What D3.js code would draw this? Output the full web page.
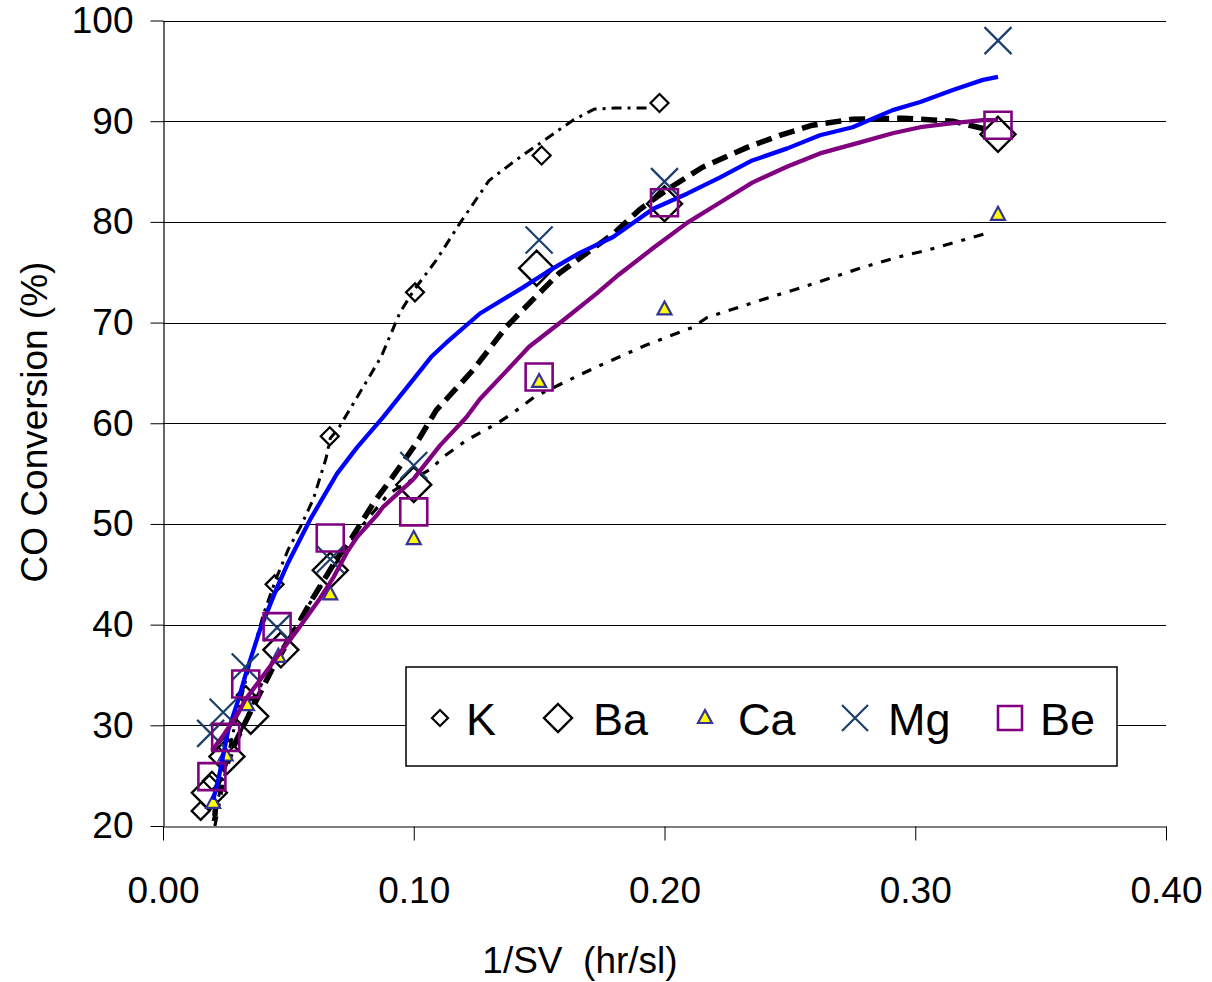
<!DOCTYPE html>
<html>
<head>
<meta charset="utf-8">
<script src="https://cdn.jsdelivr.net/npm/d3@7"></script>
<style>
  html, body { margin: 0; padding: 0; background: #fff; }
  svg text { font-family: "Liberation Sans", Arial, sans-serif; fill: #000; }
</style>
</head>
<body>
<svg id="chart" width="1212" height="982"></svg>
<script>
// ---------------- DATA ----------------
const seriesNames = ["K", "Ba", "Ca", "Mg", "Be"];
const xTicks = [0.00, 0.10, 0.20, 0.30, 0.40];
const yTicks = [20, 30, 40, 50, 60, 70, 80, 90, 100];

// measured points (markers)
const kX  = [0.015, 0.0195, 0.025, 0.033, 0.0445, 0.0665, 0.1005, 0.151, 0.198];
const kY  = [21.5, 24.5, 28.0, 33.0, 44.0, 58.7, 73.0, 86.6, 91.8];
const baX = [0.0185, 0.0255, 0.035, 0.047, 0.0667, 0.100, 0.149, 0.200, 0.333];
const baY = [23.3, 26.9, 30.9, 37.5, 45.4, 53.9, 75.4, 81.8, 88.7];
const caX = [0.020, 0.025, 0.0335, 0.046, 0.0667, 0.100, 0.150, 0.200, 0.333];
const caY = [22.3, 27.0, 32.0, 36.8, 43.0, 48.5, 64.1, 71.3, 80.7];
const mgX = [0.019, 0.024, 0.0328, 0.0455, 0.0667, 0.100, 0.150, 0.200, 0.333];
const mgY = [29.2, 31.3, 35.8, 39.7, 46.5, 55.8, 78.2, 84.0, 98.0];
const beX = [0.0195, 0.025, 0.033, 0.0455, 0.0667, 0.100, 0.150, 0.200, 0.333];
const beY = [24.9, 28.8, 34.1, 39.8, 48.6, 51.2, 64.6, 81.9, 89.6];

// model curves
const kLineX  = [0.020, 0.025, 0.030, 0.035, 0.040, 0.045, 0.050, 0.055, 0.060, 0.065, 0.0667, 0.070, 0.076, 0.082, 0.087, 0.0945, 0.100, 0.109, 0.1185, 0.130, 0.140, 0.148, 0.1635, 0.172, 0.180, 0.195];
const kLineY  = [20.5, 26.0, 31.5, 36.5, 41.0, 44.5, 47.5, 49.8, 52.5, 56.5, 58.5, 59.5, 62.0, 64.5, 66.6, 71.0, 73.2, 76.2, 79.9, 84.1, 86.0, 87.4, 90.1, 91.2, 91.3, 91.3];
const baLineX = [0.0207, 0.0215, 0.0255, 0.032, 0.0387, 0.044, 0.052, 0.0587, 0.069, 0.0755, 0.084, 0.0905, 0.101, 0.109, 0.1237, 0.137, 0.1476, 0.158, 0.169, 0.180, 0.190, 0.201, 0.215, 0.233, 0.246, 0.259, 0.275, 0.295, 0.315, 0.330];
const baLineY = [21.0, 23.9, 26.6, 29.9, 33.2, 35.8, 39.2, 42.2, 46.4, 48.7, 52.1, 54.3, 58.0, 61.3, 65.3, 69.6, 72.3, 74.9, 76.9, 78.9, 81.2, 83.2, 85.4, 87.4, 88.6, 89.6, 90.2, 90.3, 90.0, 89.1];
const caLineX = [0.0207, 0.025, 0.032, 0.040, 0.050, 0.060, 0.070, 0.080, 0.090, 0.100, 0.1065, 0.112, 0.121, 0.134, 0.140, 0.148, 0.162, 0.173, 0.193, 0.211, 0.217, 0.238, 0.255, 0.278, 0.293, 0.305, 0.329];
const caLineY = [20.0, 25.5, 30.0, 34.5, 38.7, 42.7, 46.5, 50.0, 53.0, 54.5, 55.4, 56.7, 58.3, 60.1, 61.1, 62.6, 64.3, 65.6, 67.8, 69.5, 70.5, 72.2, 73.5, 75.4, 76.5, 77.2, 78.9];
const mgLineX = [0.020, 0.022, 0.026, 0.030, 0.0335, 0.0387, 0.0455, 0.050, 0.0586, 0.0694, 0.0774, 0.0878, 0.100, 0.107, 0.113, 0.1264, 0.1436, 0.153, 0.166, 0.1795, 0.1955, 0.209, 0.222, 0.235, 0.249, 0.262, 0.275, 0.291, 0.302, 0.315, 0.327, 0.333];
const mgLineY = [22.6, 24.5, 29.5, 32.5, 35.5, 39.5, 43.7, 46.2, 50.4, 55.0, 57.6, 60.6, 64.4, 66.6, 68.0, 70.9, 73.5, 75.0, 76.9, 78.5, 81.3, 82.8, 84.4, 86.1, 87.3, 88.6, 89.4, 91.1, 91.9, 93.1, 94.1, 94.4];
const beLineX = [0.0195, 0.0235, 0.030, 0.0327, 0.0387, 0.0455, 0.0534, 0.0626, 0.068, 0.0734, 0.0774, 0.0854, 0.0878, 0.0997, 0.1105, 0.121, 0.1264, 0.137, 0.146, 0.160, 0.173, 0.182, 0.1955, 0.209, 0.222, 0.235, 0.249, 0.262, 0.278, 0.291, 0.302, 0.315, 0.327, 0.333];
const beLineY = [27.5, 28.8, 31.2, 32.5, 34.5, 36.8, 39.4, 42.6, 44.7, 47.2, 48.7, 50.9, 51.7, 54.4, 57.8, 60.6, 62.4, 65.2, 67.6, 70.3, 72.9, 74.8, 77.4, 79.9, 81.9, 83.9, 85.5, 86.8, 87.9, 88.8, 89.4, 89.8, 90.1, 90.1];

// ---------------- CHART ----------------
const svg = d3.select("#chart");
const L = 163, R = 1166, T = 20.5, B = 826;
const x = d3.scaleLinear().domain([0, 0.4]).range([L, R]);
const y = d3.scaleLinear().domain([20, 100]).range([B, T]);

// gridlines
svg.append("g").selectAll("line").data(yTicks.filter(v => v > 20)).join("line")
  .attr("x1", L).attr("x2", R)
  .attr("y1", d => Math.round(y(d)) + 0.5).attr("y2", d => Math.round(y(d)) + 0.5)
  .attr("stroke", "#000").attr("stroke-width", 1);

// axes
const yAxis = d3.axisLeft(y).tickValues(yTicks).tickFormat(d3.format("d"))
  .tickSize(13).tickSizeOuter(0).tickPadding(17);
const gy = svg.append("g").attr("transform", `translate(${L + 0.5},0)`).call(yAxis);
const xAxis = d3.axisBottom(x).tickValues(xTicks).tickFormat(d3.format(".2f"))
  .tickSize(14).tickSizeOuter(0).tickPadding(36);
const gx = svg.append("g").attr("transform", `translate(0,${B + 0.5})`).call(xAxis);
[gx, gy].forEach(g => {
  g.select(".domain").attr("stroke", "#000").attr("stroke-width", 1.2);
  g.selectAll(".tick line").attr("stroke", "#000").attr("stroke-width", 1);
  g.selectAll(".tick text").attr("font-size", 37).attr("fill", "#000")
    .style("font-family", "'Liberation Sans', Arial, sans-serif");
});

// axis titles
svg.append("text").attr("x", 580).attr("y", 973).attr("text-anchor", "middle")
  .attr("font-size", 37).style("white-space", "pre").text("1/SV \u00a0(hr/sl)");
svg.append("text").attr("transform", "translate(47,422) rotate(-90)")
  .attr("text-anchor", "middle").attr("font-size", 37).text("CO Conversion (%)");

// helpers
const zip = (xs, ys) => xs.map((v, i) => [v, ys[i]]);
const line = d3.line().x(d => x(d[0])).y(d => y(d[1]));
const plot = svg.append("g");

const diamond = (cx, cy, r) => `M${cx},${cy - r}L${cx + r},${cy}L${cx},${cy + r}L${cx - r},${cy}Z`;
const tri = (cx, cy) => `M${cx},${cy - 8}L${cx + 7},${cy + 5}L${cx - 7},${cy + 5}Z`;
const cross = (cx, cy, r) => `M${cx - r},${cy - r}L${cx + r},${cy + r}M${cx + r},${cy - r}L${cx - r},${cy + r}`;
const square = (cx, cy, r) => `M${cx - r},${cy - r}H${cx + r}V${cy + r}H${cx - r}Z`;

const styles = {
  K:  { line: { stroke: "#000", w: 3, dash: "10,6,3,6" },
        mark: (cx, cy) => diamond(cx, cy, 9), mstroke: "#000", mfill: "none", mw: 2.2 },
  Ba: { line: { stroke: "#000", w: 5.5, dash: "16,8" },
        mark: (cx, cy) => diamond(cx, cy, 17.5), mstroke: "#000", mfill: "none", mw: 2.4 },
  Ca: { line: { stroke: "#000", w: 3.2, dash: "10,9,4,9" },
        mark: (cx, cy) => tri(cx, cy), mstroke: "#333399", mfill: "#ffff00", mw: 2.2 },
  Mg: { line: { stroke: "#0000ff", w: 4.3, dash: null },
        mark: (cx, cy) => cross(cx, cy, 13.5), mstroke: "#1b3f6b", mfill: "none", mw: 2.2 },
  Be: { line: { stroke: "#800080", w: 4.3, dash: null },
        mark: (cx, cy) => square(cx, cy, 13.5), mstroke: "#800080", mfill: "none", mw: 2.6 }
};

const seriesData = {
  K:  { pts: zip(kX, kY),   curve: zip(kLineX, kLineY) },
  Ba: { pts: zip(baX, baY), curve: zip(baLineX, baLineY) },
  Ca: { pts: zip(caX, caY), curve: zip(caLineX, caLineY) },
  Mg: { pts: zip(mgX, mgY), curve: zip(mgLineX, mgLineY) },
  Be: { pts: zip(beX, beY), curve: zip(beLineX, beLineY) }
};

seriesNames.forEach(name => {
  const s = styles[name], d = seriesData[name];
  plot.append("path").datum(d.curve).attr("d", line)
    .attr("fill", "none").attr("stroke", s.line.stroke).attr("stroke-width", s.line.w)
    .attr("stroke-dasharray", s.line.dash).attr("stroke-linejoin", "round");
  plot.append("g").selectAll("path").data(d.pts).join("path")
    .attr("d", p => s.mark(x(p[0]), y(p[1])))
    .attr("fill", s.mfill).attr("stroke", s.mstroke).attr("stroke-width", s.mw);
});

// legend
const lg = svg.append("g");
lg.append("rect").attr("x", 406).attr("y", 667).attr("width", 711).attr("height", 99)
  .attr("fill", "#fff").attr("stroke", "#000").attr("stroke-width", 1.5);
const legendMarkX = [440, 558, 705, 855, 1010];
const legendTextX = [466, 593, 738, 888, 1040];
const legendMarks = {
  K:  (cx, cy) => diamond(cx, cy, 8),
  Ba: (cx, cy) => diamond(cx, cy, 14),
  Ca: (cx, cy) => tri(cx, cy),
  Mg: (cx, cy) => cross(cx, cy, 13),
  Be: (cx, cy) => square(cx, cy, 12)
};
seriesNames.forEach((name, i) => {
  const s = styles[name];
  lg.append("path").attr("d", legendMarks[name](legendMarkX[i], 718))
    .attr("fill", s.mfill).attr("stroke", s.mstroke).attr("stroke-width", s.mw);
  lg.append("text").attr("x", legendTextX[i]).attr("y", 735)
    .attr("font-size", 45).text(name);
});
</script>
</body>
</html>
